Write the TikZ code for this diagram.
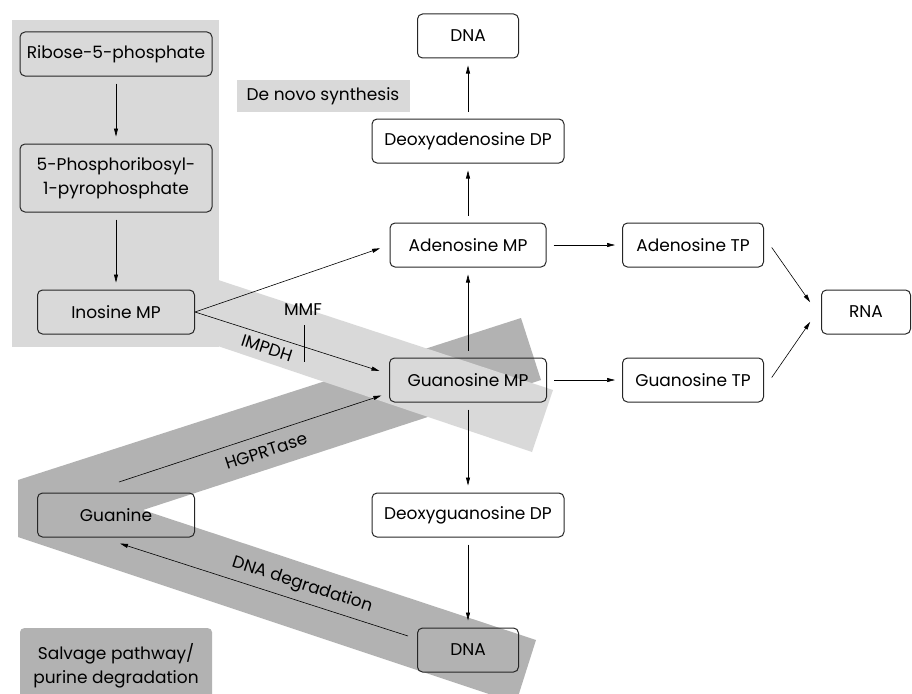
\documentclass[tikz,border=0pt]{standalone}
\usepackage{fontspec}
\setmainfont{Poppins}
\usetikzlibrary{arrows.meta}

\definecolor{denovo}{gray}{0.85}
\definecolor{salvage}{gray}{0.70}

\tikzstyle{every node}=[font=\fontsize{17}{24}\selectfont]
\tikzstyle{box}=[draw=black!85, line width=1pt, rounded corners=5pt, minimum height=44pt, inner sep=2pt]
\tikzstyle{arr}=[-{Triangle[length=8pt,width=4pt]}, line width=0.6pt, shorten <=7pt, shorten >=7pt]
\tikzstyle{lbl}=[inner sep=0pt]
\tikzstyle{denovolabel}=[fill=denovo, minimum width=173pt, minimum height=32pt]
\tikzstyle{salvagelabel}=[fill=salvage, rounded corners=4pt, minimum width=192pt, minimum height=75pt, align=center]

\begin{document}
\begin{tikzpicture}[x=1pt,y=-1pt]
    \clip (0,0) rectangle (912,693);
    % shaded pathways
    \fill[salvage] (18,480) -- (521,318) -- (541,380) -- (143,510) -- (536,640) -- (516,703) -- (18,537) -- cycle;
    \fill[denovo] (12,20) rectangle (219,347);
    \fill[denovo] (200,274) -- (553,390) -- (532,452) -- (200,340) -- cycle;

    % de novo synthesis
    \node [box, minimum width=192pt] (ribose) at (116,54) {Ribose-5-phosphate};
    \node [box, minimum width=192pt, minimum height=68pt, align=center] (prpp) at (116,178) {5-Phosphoribosyl-\\1-pyrophosphate};
    \node [box, minimum width=157pt] (imp) at (116,312) {Inosine MP};
    \node [box, minimum width=101pt] (dnatop) at (468,36) {DNA};
    \node [box, minimum width=192pt] (dadp) at (468,141) {Deoxyadenosine DP};
    \node [box, minimum width=156pt] (amp) at (468,245) {Adenosine MP};
    \node [box, minimum width=141pt] (atp) at (693,245) {Adenosine TP};
    \node [box, minimum width=89pt] (rna) at (866,312) {RNA};
    \node [box, minimum width=157pt] (gmp) at (468,380) {Guanosine MP};
    \node [box, minimum width=141pt] (gtp) at (693,380) {Guanosine TP};
    \node [box, minimum width=192pt] (dgdp) at (468,515) {Deoxyguanosine DP};
    % salvage pathway
    \node [box, minimum width=157pt] (guanine) at (116,515) {Guanine};
    \node [box, minimum width=101pt] (dnabot) at (468,650) {DNA};

    \node [denovolabel] (denovo) at (323,96) {De novo synthesis};
    \node [salvagelabel, anchor=north] (salvage) at (116,628) {Salvage pathway/\\purine degradation};

    \draw [arr] (ribose) -- (prpp);
    \draw [arr] (prpp) -- (imp);
    \draw [arr, shorten <=0pt, shorten >=10pt] (imp.east) -- (amp.west);
    \draw [arr, shorten <=0pt, shorten >=10pt] (imp.east) -- ([yshift=6pt]gmp.west);
    \draw [arr] (amp) -- (dadp);
    \draw [arr] (dadp) -- (dnatop);
    \draw [arr] (gmp) -- (amp);
    \draw [arr] (gmp) -- (dgdp);
    \draw [arr] (dgdp) -- (dnabot);
    \draw [arr] (amp) -- (atp);
    \draw [arr] (gmp) -- (gtp);
    \draw [arr, shorten <=3pt, shorten >=12pt] ([xshift=6pt]atp.east) -- ([xshift=-4pt]rna.west);
    \draw [arr, shorten <=3pt, shorten >=12pt] ([xshift=6pt]gtp.east) -- ([xshift=-4pt]rna.west);

    \coordinate (hgstart) at (119,482);
    \coordinate (degstart) at (408,636);
    \draw [arr, shorten <=0pt, shorten >=8pt] (hgstart) -- ([yshift=-13pt]gmp.west);
    \draw [arr, shorten <=0pt, shorten >=0pt] (degstart) -- ([shift={(4pt,-6pt)}]guanine.south);

    % enzymes
    \node [lbl] (mmf) at (303,310) {MMF};
    \draw [line width=0.6pt] ([shift={(1pt,-15pt)}]mmf.center) -- ++(0,37);
    \node [lbl, rotate=-18] (impdh) at (267,348) {IMPDH};
    \node [lbl, rotate=18] (hgprt) at (266,451) {HGPRTase};
    \node [lbl, rotate=-18] (degr) at (302,585) {DNA degradation};
\end{tikzpicture}
\end{document}
